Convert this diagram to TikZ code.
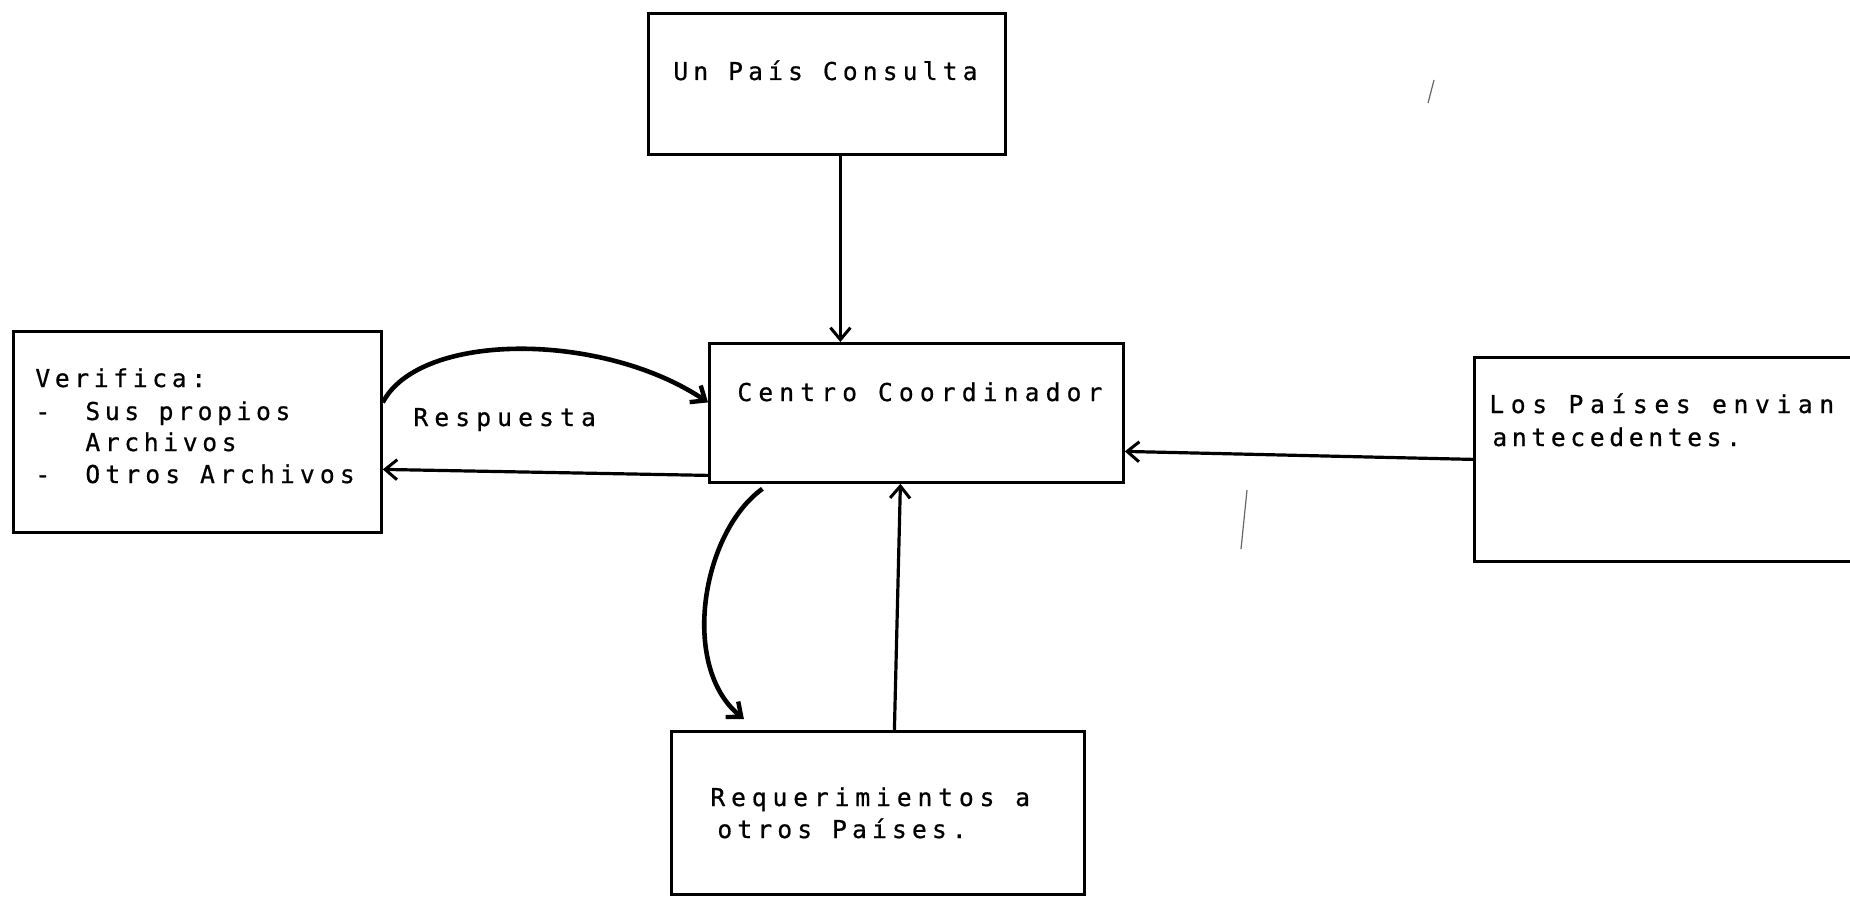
\documentclass[tikz,border=0pt]{standalone}
\usepackage{fontspec}
\newfontfamily\tw[LetterSpace=19,FakeBold=0.7]{DejaVu Sans Mono}
\usetikzlibrary{arrows.meta}
\tikzset{
  box/.style={draw, line width=1.4pt, inner sep=0pt, anchor=north west},
  txt/.style={font=\tw\fontsize{12.3}{16}\selectfont, inner sep=0pt, anchor=base west},
  sp/.style={font=\tw\addfontfeatures{LetterSpace=#1}\fontsize{12.3}{16}\selectfont},
  link/.style={line width=1.6pt, -{Straight Barb[length=6pt,width=10pt,line width=1.5pt]}},
  curved/.style={line width=2.3pt, -{Straight Barb[length=6pt,width=10pt,line width=2.2pt]}},
  scanmark/.style={line width=0.6pt, black!60}
}
\begin{document}
\begin{tikzpicture}[x=0.5pt,y=-0.5pt]
\useasboundingbox (0,0) rectangle (1850,898);
% boxes
\node[box, minimum width=178.5pt, minimum height=70.5pt] (top) at (647,12) {};
\node[box, minimum width=207pt, minimum height=69.5pt] (center) at (708,342) {};
\node[box, minimum width=184pt, minimum height=100.5pt] (left) at (12,330) {};
\node[box, minimum width=215pt, minimum height=102pt] (right) at (1473,356) {};
\node[box, minimum width=206.5pt, minimum height=81.5pt] (bottom) at (670,730) {};
% texts
\node[txt, sp=21] (ttop) at (673,80) {Un País Consulta};
\node[txt, sp=25] (tcen) at (737,401) {Centro Coordinador};
\node[txt] (tl1) at (35,387) {Verifica:};
\node[txt] (tl2a) at (35,420) {-};
\node[txt] (tl2b) at (85,420) {Sus propios};
\node[txt] (tl3) at (85,451) {Archivos};
\node[txt] (tl4a) at (35,483) {-};
\node[txt, sp=21] (tl4b) at (85,483) {Otros Archivos};
\node[txt, sp=25] (tresp) at (413,426) {Respuesta};
\node[txt, sp=27] (tr1) at (1489,413) {Los Países envian};
\node[txt] (tr2) at (1492,446) {antecedentes.};
\node[txt, sp=24] (tb1) at (710,806) {Requerimientos a};
\node[txt, sp=21] (tb2) at (717,838) {otros Países.};
% connectors
\draw[link] ([xshift=6.75pt]top.south) -- ([xshift=-38pt]center.north);
\draw[link] ([yshift=-31.25pt]center.west) -- ([yshift=-18.75pt]left.east);
\draw[curved] ([yshift=14.75pt]left.east) .. controls +(37,-71) and +(-106,-71) .. ([yshift=5.25pt]center.west);
\draw[link] (right.west) -- ([yshift=-19.25pt]center.east);
\draw[link] ([xshift=8.25pt]bottom.north) -- ([xshift=-8pt]center.south);
\draw[curved] ([xshift=-77pt,yshift=-2.5pt]center.south) .. controls +(-61,44) and +(-64,-52) .. ([xshift=-67pt,yshift=5.5pt]bottom.north);
% scan marks
\draw[scanmark] (1434,80) -- (1428,103);
\draw[scanmark] (1247,490) -- (1241,549);
\end{tikzpicture}
\end{document}
